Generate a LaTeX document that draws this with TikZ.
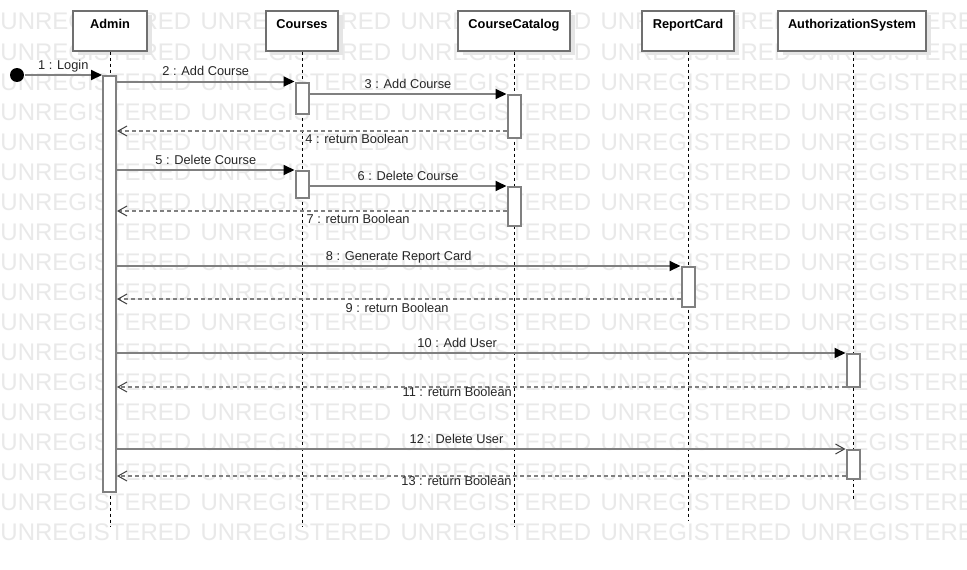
\documentclass[tikz,border=0pt]{standalone}
\usepackage{fontspec}
\setmainfont{Liberation Sans}
\usetikzlibrary{arrows.meta,shadows,positioning}
\tikzset{
every picture/.style={
line width=1pt
}}
\definecolor{wmgray}{RGB}{233,233,233}
\definecolor{linegray}{RGB}{128,128,128}
\definecolor{boxgray}{RGB}{112,112,112}

\begin{document}
\begin{tikzpicture}[x=1pt, y=-1pt,
head/.style = {rectangle, draw=boxgray, line width=2pt, fill=white, inner ysep=0pt, text height=18pt, text depth=22pt, anchor=north, font=\fontsize{12.8}{15}\selectfont\bfseries, drop shadow={shadow xshift=5pt, shadow yshift=-4pt, fill=black!10, opacity=1}},
act/.style = {rectangle, draw=linegray, line width=2pt, fill=white, minimum width=13pt, inner sep=0pt, anchor=north},
life/.style = {draw=black, line width=1pt, dash pattern=on 3pt off 3pt},
msg/.style = {draw=linegray, line width=2pt, -{Triangle[length=11pt, width=10pt, color=black, fill=black]}},
msgo/.style = {draw=linegray, line width=2pt, -{Straight Barb[length=9pt, width=10pt, line width=1pt, color=black!75]}},
ret/.style = {draw=linegray, line width=2pt, dash pattern=on 4pt off 3pt, -{Straight Barb[length=9pt, width=10pt, line width=1pt, color=black!75]}},
lbl/.style = {anchor=base, inner sep=0pt, text=black!85, font=\fontsize{12.8}{15}\selectfont},
lblA/.style = {lbl, yshift=6pt},
lblB/.style = {lbl, yshift=-#1},
lblB/.default = 12pt,
wm/.style = {anchor=base west, inner sep=0pt, text=wmgray, font=\fontsize{24}{24}\selectfont}]

\fill[white] (0,0) rectangle (967,570);
\useasboundingbox (0,0) rectangle (967,570);

% watermark
\begin{scope}
\clip (0,0) rectangle (967,570);
\foreach \r in {0,...,17}
  \foreach \c in {0,...,4}
    \node[wm] (wm-\r-\c) at (200*\c, 30+30*\r) {UNREGISTERED};
\end{scope}

% lifelines
\node[head, minimum width=74pt] (admin) at (110,9.5) {Admin};
\node[head, minimum width=72pt] (courses) at (302,9.5) {Courses};
\node[head, minimum width=112pt] (catalog) at (514,9.5) {CourseCatalog};
\node[head, minimum width=92pt] (report) at (688,9.5) {ReportCard};
\node[head, minimum width=148pt] (auth) at (852,9.5) {AuthorizationSystem};

\coordinate (adminEnd) at (110,526);
\coordinate (coursesEnd) at (302,526);
\coordinate (catalogEnd) at (514,526);
\coordinate (reportEnd) at (688,521);
\coordinate (authEnd) at (853,501);
\draw[life] (admin.south) -- (adminEnd);
\draw[life] (courses.south) -- (coursesEnd);
\draw[life] (catalog.south) -- (catalogEnd);
\draw[life] (report.south) -- (reportEnd);
\draw[life] ([xshift=1pt]auth.south) -- (authEnd);

% activations
\node[act, minimum height=416pt] (adminAct) at (109.5,75) {};
\node[act, minimum height=31pt] (cs1) at (302,81.5) {};
\node[act, minimum height=27pt] (cs2) at (302,170) {};
\node[act, minimum height=43pt] (cc1) at (514,94) {};
\node[act, minimum height=39pt] (cc2) at (514,186) {};
\node[act, minimum height=40pt] (rc1) at (688,266) {};
\node[act, minimum height=33pt] (au1) at (853,353) {};
\node[act, minimum height=29pt] (au2) at (853,449) {};

\node[circle, fill=black, minimum size=14pt, inner sep=0pt] (start) at (17,75) {};

% messages
\draw[msg] (start) -- node[lblA] (l1) {1 : Login} (adminAct.north west);
\draw[msg] (adminAct.east |- cs1.north) -- node[lblA] (l2) {2 : Add Course} (cs1.north west);
\draw[msg] (cs1.east |- cc1.north) -- node[lblA] (l3) {3 : Add Course} (cc1.north west);
\coordinate (r4) at ([yshift=8pt]cc1.south west);
\draw[ret] (r4) -- node[lblB, pos=0.384] (l4) {4 : return Boolean} (r4 -| adminAct.east);
\draw[msg] (adminAct.east |- cs2.north) -- node[lblA] (l5) {5 : Delete Course} (cs2.north west);
\draw[msg] (cs2.east |- cc2.north) -- node[lblA] (l6) {6 : Delete Course} (cc2.north west);
\coordinate (r7) at ([yshift=16pt]cc2.south west);
\draw[ret] (r7) -- node[lblB, pos=0.381] (l7) {7 : return Boolean} (r7 -| adminAct.east);
\draw[msg] (adminAct.east |- rc1.north) -- node[lblA] (l8) {8 : Generate Report Card} (rc1.north west);
\coordinate (r9) at ([yshift=9pt]rc1.south west);
\draw[ret] (r9) -- node[lblB=13pt, pos=0.503] (l9) {9 : return Boolean} (r9 -| adminAct.east);
\draw[msg] (adminAct.east |- au1.north) -- node[lblA, pos=0.467] (l10) {10 : Add User} (au1.north west);
\coordinate (r11) at ([yshift=1pt]au1.south west);
\draw[ret] (r11) -- node[lblB=9pt, pos=0.533] (l11) {11 : return Boolean} (r11 -| adminAct.east);
\draw[msgo] (adminAct.east |- au2.north) -- node[lblA, pos=0.466] (l12) {12 : Delete User} (au2.north west);
\coordinate (r13) at ([yshift=4pt]au2.south west);
\draw[ret] (r13) -- node[lblB=9pt, pos=0.534] (l13) {13 : return Boolean} (r13 -| adminAct.east);
\end{tikzpicture}
\end{document}
